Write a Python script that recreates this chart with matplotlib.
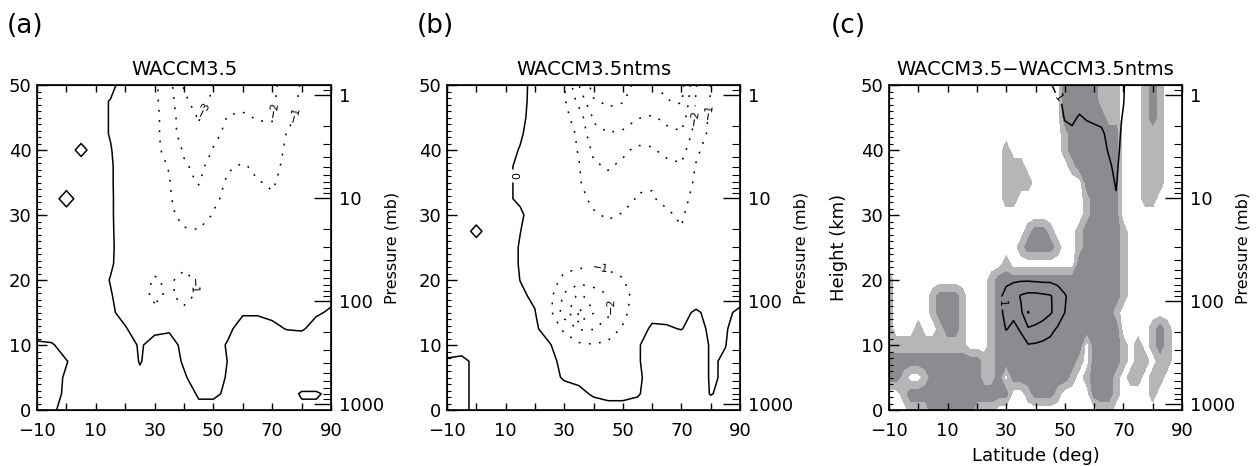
import numpy as np
import matplotlib.pyplot as plt
from matplotlib.ticker import NullFormatter

plt.rcParams['font.family'] = ['DejaVu Sans']

# grids: 5 deg / 2.5 km for the model fields, 2.5 deg for the difference panel
lat = np.arange(-10, 91, 5)
lat_fine = np.arange(-10, 90.1, 2.5)
height = np.arange(0, 50.1, 2.5)

# WACCM3.5 field, rows from 50 km down to 0 km, columns -10..90 deg
waccm_rows = [
    [0.3, 0.3, 0.3, 0.3, 0.3, 0.3, -0.5, -0.6, -0.8, -1.7, -3.1, -3.5, -3.0, -2.6, -2.5, -2.4, -2.2, -1.6, -0.9, -0.6, -0.5],
    [0.3, 0.3, 0.3, 0.3, 0.3, -0.05, -0.5, -0.6, -0.8, -1.6, -2.8, -3.4, -2.8, -2.3, -2.2, -2.2, -2.15, -1.5, -0.8, -0.6, -0.5],
    [0.3, 0.3, 0.3, 0.3, 0.3, -0.05, -0.5, -0.6, -0.75, -1.5, -2.6, -3.05, -2.4, -1.95, -1.9, -2.05, -2.05, -1.3, -0.75, -0.55, -0.5],
    [0.3, 0.3, 0.3, 0.3, 0.3, -0.05, -0.5, -0.6, -0.75, -1.5, -2.5, -2.9, -2.2, -1.8, -1.7, -1.8, -1.85, -0.95, -0.7, -0.5, -0.45],
    [0.3, 0.3, 0.3, -0.2, 0.3, 0.05, -0.5, -0.6, -0.75, -1.35, -2.1, -2.6, -1.95, -1.6, -1.5, -1.5, -1.45, -0.85, -0.65, -0.5, -0.45],
    [0.3, 0.3, 0.3, 0.3, 0.3, 0.1, -0.45, -0.55, -0.7, -1.05, -1.9, -2.2, -1.7, -1.1, -0.9, -1.2, -1.3, -0.75, -0.6, -0.5, -0.45],
    [0.3, 0.3, 0.3, 0.3, 0.3, 0.1, -0.45, -0.5, -0.65, -0.95, -1.8, -2.05, -1.45, -0.85, -0.7, -0.95, -1.1, -0.7, -0.55, -0.5, -0.45],
    [0.3, 0.3, -0.3, 0.3, 0.3, 0.1, -0.4, -0.5, -0.6, -0.9, -1.5, -1.7, -1.15, -0.8, -0.7, -0.85, -0.9, -0.65, -0.5, -0.45, -0.4],
    [0.3, 0.3, 0.3, 0.3, 0.3, 0.1, -0.4, -0.45, -0.55, -0.8, -1.3, -1.4, -0.95, -0.7, -0.6, -0.7, -0.75, -0.6, -0.5, -0.45, -0.4],
    [0.3, 0.3, 0.3, 0.3, 0.3, 0.1, -0.35, -0.4, -0.5, -0.65, -0.9, -0.95, -0.8, -0.6, -0.55, -0.6, -0.6, -0.5, -0.45, -0.4, -0.4],
    [0.3, 0.3, 0.3, 0.3, 0.3, 0.1, -0.3, -0.4, -0.45, -0.55, -0.65, -0.7, -0.6, -0.5, -0.45, -0.5, -0.5, -0.45, -0.4, -0.35, -0.35],
    [0.3, 0.3, 0.3, 0.3, 0.3, 0.08, -0.3, -0.4, -0.55, -0.6, -0.7, -0.6, -0.5, -0.45, -0.4, -0.4, -0.4, -0.35, -0.35, -0.3, -0.3],
    [0.3, 0.3, 0.3, 0.3, 0.3, -0.03, -0.3, -0.45, -1.15, -0.8, -1.4, -0.8, -0.5, -0.4, -0.35, -0.35, -0.35, -0.3, -0.3, -0.25, -0.2],
    [0.3, 0.3, 0.3, 0.3, 0.3, 0.05, -0.3, -0.5, -1.3, -0.8, -1.4, -0.75, -0.45, -0.35, -0.3, -0.3, -0.3, -0.25, -0.2, -0.1, -0.1],
    [0.3, 0.3, 0.3, 0.3, 0.3, 0.1, -0.2, -0.4, -0.6, -0.5, -0.7, -0.5, -0.35, -0.15, -0.05, -0.05, -0.1, -0.15, -0.1, -0.05, 0.05],
    [0.3, 0.3, 0.3, 0.3, 0.3, 0.3, 0.05, -0.3, -0.1, -0.05, -0.3, -0.4, -0.3, -0.1, 0.2, 0.2, 0.1, -0.02, -0.05, 0.15, 0.2],
    [-0.1, -0.05, 0.2, 0.3, 0.3, 0.3, 0.2, -0.05, 0.15, 0.15, -0.1, -0.3, -0.2, 0.05, 0.3, 0.3, 0.3, 0.3, 0.3, 0.3, 0.3],
    [-0.2, -0.15, -0.02, 0.2, 0.3, 0.3, 0.3, -0.03, 0.2, 0.2, -0.05, -0.3, -0.3, 0.02, 0.3, 0.3, 0.3, 0.3, 0.3, 0.3, 0.3],
    [-0.2, -0.15, 0.05, 0.2, 0.3, 0.3, 0.3, 0.1, 0.2, 0.2, 0.05, -0.2, -0.2, 0.05, 0.3, 0.3, 0.3, 0.3, 0.3, 0.3, 0.3],
    [-0.15, -0.1, 0.05, 0.2, 0.3, 0.3, 0.3, 0.3, 0.3, 0.2, 0.2, -0.05, -0.05, 0.05, 0.3, 0.3, 0.3, 0.2, -0.05, -0.05, 0.1],
    [-0.1, -0.05, 0.1, 0.2, 0.2, 0.2, 0.2, 0.2, 0.2, 0.2, 0.2, 0.1, 0.1, 0.1, 0.2, 0.2, 0.2, 0.2, 0.1, 0.1, 0.2],
]

# WACCM3.5ntms field, same layout
ntms_rows = [
    [0.4, 0.4, 0.4, 0.4, 0.4, 0.4, -0.4, -0.6, -0.95, -3.0, -4.4, -4.6, -4.3, -3.8, -3.9, -4.3, -4.4, -2.05, -0.98, -0.6, -0.4],
    [0.4, 0.4, 0.4, 0.4, 0.4, 0.35, -0.4, -0.55, -0.85, -2.3, -3.9, -4.15, -4.05, -3.6, -3.65, -3.95, -4.1, -1.9, -0.95, -0.55, -0.4],
    [0.4, 0.4, 0.4, 0.4, 0.4, 0.25, -0.4, -0.5, -0.7, -1.5, -3.1, -3.7, -3.6, -3.05, -2.9, -3.2, -3.5, -1.85, -0.8, -0.5, -0.4],
    [0.4, 0.4, 0.4, 0.4, 0.4, 0.1, -0.4, -0.5, -0.7, -1.1, -2.8, -2.95, -2.8, -2.5, -2.4, -2.8, -2.9, -1.6, -0.75, -0.5, -0.4],
    [0.4, 0.4, 0.4, 0.4, 0.3, -0.05, -0.4, -0.5, -0.65, -1.05, -2.2, -2.6, -2.2, -1.8, -1.9, -2.3, -2.4, -1.15, -0.65, -0.5, -0.4],
    [0.4, 0.4, 0.4, 0.4, 0.1, -0.1, -0.4, -0.45, -0.6, -0.95, -1.85, -2.1, -1.8, -1.5, -1.45, -1.7, -1.9, -0.95, -0.6, -0.45, -0.4],
    [0.4, 0.4, 0.4, 0.4, 0.1, -0.1, -0.35, -0.45, -0.55, -0.9, -1.5, -1.7, -1.4, -1.1, -1.05, -1.3, -1.5, -0.85, -0.55, -0.45, -0.4],
    [0.4, 0.4, 0.4, 0.4, 0.1, -0.1, -0.35, -0.4, -0.5, -0.75, -1.2, -1.45, -1.25, -0.95, -0.95, -1.15, -1.25, -0.75, -0.5, -0.4, -0.35],
    [0.4, 0.4, 0.4, 0.4, 0.4, 0.1, -0.3, -0.4, -0.45, -0.65, -0.9, -1.1, -0.95, -0.75, -0.7, -0.9, -1.1, -0.6, -0.45, -0.4, -0.35],
    [0.4, 0.4, -0.25, 0.4, 0.4, 0.01, -0.3, -0.35, -0.4, -0.5, -0.65, -0.75, -0.7, -0.6, -0.55, -0.75, -0.95, -0.5, -0.4, -0.35, -0.3],
    [0.4, 0.4, 0.4, 0.4, 0.3, -0.05, -0.25, -0.3, -0.35, -0.4, -0.5, -0.55, -0.5, -0.45, -0.45, -0.5, -0.6, -0.4, -0.35, -0.3, -0.3],
    [0.4, 0.4, 0.4, 0.4, 0.3, -0.05, -0.25, -0.4, -0.6, -0.75, -0.85, -0.8, -0.7, -0.4, -0.4, -0.4, -0.45, -0.35, -0.3, -0.3, -0.25],
    [0.4, 0.4, 0.4, 0.4, 0.3, -0.01, -0.2, -0.5, -1.3, -1.6, -1.5, -1.3, -1.05, -0.5, -0.35, -0.35, -0.35, -0.3, -0.25, -0.2, -0.2],
    [0.4, 0.4, 0.4, 0.4, 0.3, 0.1, -0.1, -0.7, -2.2, -3.2, -2.6, -2.1, -1.5, -0.5, -0.3, -0.3, -0.3, -0.2, -0.2, -0.15, -0.1],
    [0.4, 0.4, 0.4, 0.4, 0.3, 0.2, 0.03, -0.7, -2.5, -4.3, -3.05, -2.2, -1.3, -0.4, -0.2, -0.15, -0.1, 0.05, -0.1, -0.05, 0.05],
    [0.4, 0.4, 0.4, 0.4, 0.3, 0.3, 0.1, -0.3, -1.2, -2.1, -2.05, -1.5, -0.9, -0.3, 0.1, 0.05, -0.02, 0.2, -0.1, -0.02, 0.1],
    [0.2, 0.2, 0.4, 0.4, 0.3, 0.3, 0.3, 0.05, -0.4, -0.8, -0.95, -0.8, -0.5, -0.05, 0.2, 0.3, 0.3, 0.3, -0.05, -0.01, 0.2],
    [-0.05, -0.1, 0.1, 0.3, 0.3, 0.3, 0.3, 0.1, -0.1, -0.3, -0.4, -0.4, -0.3, -0.05, 0.2, 0.3, 0.3, 0.3, -0.05, 0.05, 0.2],
    [-0.02, -0.1, 0.1, 0.3, 0.3, 0.3, 0.3, 0.15, -0.05, -0.1, -0.25, -0.3, -0.25, -0.1, 0.2, 0.3, 0.3, 0.3, -0.05, 0.05, 0.2],
    [-0.1, -0.1, 0.1, 0.3, 0.3, 0.3, 0.3, 0.3, 0.2, 0.1, -0.05, -0.15, -0.15, -0.05, 0.2, 0.3, 0.3, 0.2, -0.02, 0.1, 0.2],
    [-0.1, -0.05, 0.05, 0.2, 0.2, 0.2, 0.2, 0.2, 0.2, 0.2, 0.2, 0.2, 0.2, 0.2, 0.2, 0.2, 0.2, 0.2, 0.2, 0.2, 0.2],
]

# significance of the difference (0 none, 1 light, 2 dark), 50 km down to 0 km,
# columns -10..90 deg every 2.5 deg (first column, then groups of four)
signif_rows = [
    "0 0000 0000 0000 0000 0000 0002 2222 1110 0012 1000",
    "0 0000 0000 0000 0000 0000 0002 2222 1110 0012 1000",
    "0 0000 0000 0000 0000 0000 0002 2222 2110 0012 1000",
    "0 0000 0000 0000 0000 0000 0001 2222 2220 0011 1000",
    "0 0000 0000 0000 0001 0000 0001 2222 2220 0011 1000",
    "0 0000 0000 0000 0001 1100 0000 1222 2220 0011 1000",
    "0 0000 0000 0000 0001 1110 0000 0022 2220 0011 1000",
    "0 0000 0000 0000 0001 1000 0000 0012 2220 0011 0000",
    "0 0000 0000 0000 0000 0000 0000 0012 2220 0000 0000",
    "0 0000 0000 0000 0000 0012 2100 0122 2221 0000 0000",
    "0 0000 0000 0000 0000 0122 2210 0122 2221 0000 0000",
    "0 0000 0000 0000 0001 0000 0000 0222 2221 0000 0000",
    "1 0000 0000 0000 0122 2222 2222 2222 2221 0000 0000",
    "1 0000 0122 2100 0122 2222 2222 2222 2221 0000 0000",
    "1 0000 0122 2100 0122 2222 2222 2222 2210 0000 0000",
    "1 0001 0012 2100 0122 2222 2222 2222 2220 0001 2100",
    "1 1111 1111 1100 0122 2222 2222 2202 2221 0101 2100",
    "2 2222 2222 2222 1122 2222 2222 2102 2221 0110 1100",
    "2 2100 1222 2222 1120 2222 2222 1012 2210 1101 1000",
    "0 0122 2222 2222 2222 0012 2210 0002 2210 0001 0000",
    "0 0011 1222 2221 1100 0000 0000 0000 1100 0000 0000",
]

# difference contours: lower stratosphere, 25..52.5 deg, 7.5..22.5 km (bottom up)
diff_low = [
    [0.1, 0.2, 0.3, 0.3, 0.4, 0.5, 0.5, 0.5, 0.4, 0.3, 0.2, 0.1],
    [0.1, 0.3, 0.5, 0.5, 0.7, 0.95, 0.9, 0.8, 0.7, 0.5, 0.4, 0.2],
    [0.2, 0.5, 1.05, 0.8, 1.1, 1.9, 1.8, 1.6, 1.3, 0.9, 0.6, 0.3],
    [0.3, 0.7, 1.3, 1.2, 1.8, 3.05, 2.6, 2.4, 2.1, 1.7, 1.0, 0.5],
    [0.3, 0.8, 1.3, 1.5, 2.1, 2.3, 2.3, 2.2, 2.1, 1.6, 1.1, 0.6],
    [0.2, 0.4, 0.8, 0.9, 0.9, 0.9, 0.85, 0.8, 0.8, 0.7, 0.5, 0.3],
    [0.1, 0.2, 0.3, 0.4, 0.4, 0.4, 0.4, 0.35, 0.3, 0.3, 0.2, 0.1],
]
# upper stratosphere, 42.5..75 deg, 30..50 km (bottom up)
diff_high = [
    [0.2, 0.2, 0.2, 0.2, 0.3, 0.3, 0.3, 0.3, 0.3, 0.4, 0.5, 0.4, 0.2, 0.1],
    [0.2, 0.3, 0.3, 0.3, 0.3, 0.4, 0.4, 0.5, 0.5, 0.6, 0.95, 0.5, 0.3, 0.1],
    [0.3, 0.3, 0.3, 0.4, 0.4, 0.5, 0.5, 0.6, 0.6, 0.8, 1.05, 0.6, 0.3, 0.1],
    [0.3, 0.4, 0.4, 0.5, 0.5, 0.5, 0.6, 0.6, 0.7, 0.9, 1.15, 0.6, 0.3, 0.1],
    [0.3, 0.4, 0.5, 0.6, 0.6, 0.6, 0.7, 0.7, 0.8, 1.05, 1.25, 0.7, 0.3, 0.1],
    [0.3, 0.4, 0.6, 0.8, 0.9, 0.8, 0.8, 0.85, 0.9, 1.15, 1.3, 0.8, 0.3, 0.1],
    [0.3, 0.5, 0.6, 1.05, 1.1, 0.95, 1.05, 1.1, 1.15, 1.3, 1.4, 0.9, 0.3, 0.1],
    [0.3, 0.5, 0.9, 1.1, 1.2, 1.2, 1.3, 1.3, 1.3, 1.4, 1.5, 1.05, 0.3, 0.1],
    [0.3, 0.9, 1.3, 1.5, 1.5, 1.5, 1.5, 1.5, 1.5, 1.6, 1.6, 1.1, 0.4, 0.2],
]

waccm = np.array(waccm_rows)[::-1]
ntms = np.array(ntms_rows)[::-1]
signif = np.array([[int(c) for c in r.replace(' ', '')] for r in signif_rows])[::-1]

diff = np.zeros((len(height), len(lat_fine)))
diff[3:10, 14:26] = diff_low
diff[12:21, 21:35] = diff_high

# pressure axis: 1000 mb at 0.9 km, 15.85 km per decade
def pres_at(z):
    return 1000.0 * 10 ** ((0.9 - z) / 15.85)

dots = (0, (1.2, 5.5))
minus = lambda v: f'{v:.0f}'.replace('-', '\u2212')

fig = plt.figure(figsize=(12.6, 4.66), dpi=100)
bot, hgt_ax = 56 / 466, 325 / 466
ax_a = fig.add_axes([37 / 1260, bot, 294 / 1260, hgt_ax])
ax_b = fig.add_axes([447 / 1260, bot, 293 / 1260, hgt_ax])
ax_c = fig.add_axes([889 / 1260, bot, 293 / 1260, hgt_ax])


def frame(ax, title):
    ax.set_xlim(-10, 90)
    ax.set_ylim(0, 50)
    ax.set_xticks([-10, 10, 30, 50, 70, 90])
    ax.set_xticks([0, 20, 40, 60, 80], minor=True)
    ax.set_xticklabels(['\u221210', '10', '30', '50', '70', '90'])
    ax.set_yticks([0, 10, 20, 30, 40, 50])
    ax.set_yticks(np.arange(0, 51, 1), minor=True)
    ax.tick_params(axis='x', which='both', direction='in', top=True, bottom=True,
                   length=5, width=1, pad=9, labelsize=13)
    ax.tick_params(axis='y', which='major', direction='in', length=7, width=1,
                   pad=4, labelsize=13)
    ax.tick_params(axis='y', which='minor', direction='in', length=3, width=0.8)
    for s in ax.spines.values():
        s.set_linewidth(1.2)
    ax.set_title(title, fontsize=14, pad=7)

    pax = ax.twinx()
    pax.set_yscale('log')
    pax.set_ylim(pres_at(0), pres_at(50))
    pax.set_yticks([1000, 100, 10, 1])
    pax.set_yticklabels(['1000', '100', '10', '1'])
    pax.yaxis.set_minor_formatter(NullFormatter())
    pax.tick_params(axis='y', which='major', direction='in', length=12, width=1,
                    pad=6, labelsize=13)
    pax.tick_params(axis='y', which='minor', direction='in', length=6, width=0.8)
    ax.text(1.208, 0.5, 'Pressure (mb)', transform=ax.transAxes, rotation=90,
            ha='center', va='center', fontsize=11.5)


def label(ax, cs, spots):
    # spots are picked among all levels of the contour set
    ax.clabel(cs, levels=cs.levels, manual=spots, fmt=minus, fontsize=8,
              inline_spacing=3)


# (a) WACCM3.5
frame(ax_a, 'WACCM3.5')
neg_a = ax_a.contour(lat, height, waccm, levels=[-4, -3, -2, -1], colors='k',
                     linewidths=1.1, linestyles=[dots])
ax_a.contour(lat, height, waccm, levels=[0], colors='k', linewidths=1.1)
label(ax_a, neg_a, [(46, 46.5), (74, 46), (77.5, 45.5), (46, 19)])

# (b) WACCM3.5ntms
frame(ax_b, 'WACCM3.5ntms')
neg_b = ax_b.contour(lat, height, ntms, levels=[-4, -3, -2, -1], colors='k',
                     linewidths=1.1, linestyles=[dots])
zero_b = ax_b.contour(lat, height, ntms, levels=[0], colors='k', linewidths=1.1)
label(ax_b, neg_b, [(75, 45), (79, 46), (42, 21), (46.5, 16)])
label(ax_b, zero_b, [(12, 36)])

# (c) difference with significance shading
frame(ax_c, 'WACCM3.5\u2212WACCM3.5ntms')
ax_c.contourf(lat_fine, height, signif, levels=[0.5, 1.5, 2.5],
              colors=['#b6b6b9', '#8c8c90'])
pos_c = ax_c.contour(lat_fine, height, diff, levels=[1, 2, 3], colors='k',
                     linewidths=1.1)
label(ax_c, pos_c, [(31, 16.5), (48, 48)])
ax_c.set_ylabel('Height (km)', fontsize=13, labelpad=9)
ax_c.set_xlabel('Latitude (deg)', fontsize=13, labelpad=5)

for letter, x in [('(a)', 0.005), ('(b)', 0.331), ('(c)', 0.659)]:
    fig.text(x, 0.945, letter, fontsize=19, ha='left', va='center')

fig.savefig('out.png', dpi=100)
